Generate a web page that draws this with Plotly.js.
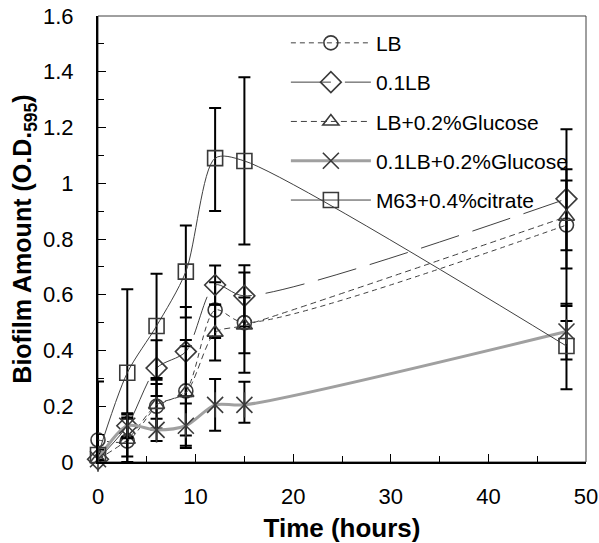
<!DOCTYPE html>
<html>
<head>
<meta charset="utf-8">
<script src="https://cdn.plot.ly/plotly-3.0.1.min.js"></script>
<style>html,body{margin:0;padding:0;background:#fff}#chart{width:599px;height:543px}</style>
</head>
<body>
<div id="chart"></div>
<script>
// Time points (hours)
const times = [0, 3, 6, 9, 12, 15, 48];

// Series values (O.D.595)
const LB        = [0.079, 0.075, 0.200, 0.255, 0.545, 0.500, 0.850];
const LB_up     = [0.210, 0.080, 0.080, 0.160, 0.100, 0.180, 0.200];
const LB_dn     = [0.070, 0.080, 0.080, 0.160, 0.100, 0.180, 0.290];

const LB01      = [0.010, 0.130, 0.337, 0.396, 0.635, 0.596, 0.944];
const LB01_up   = [0.020, 0.040, 0.100, 0.160, 0.070, 0.110, 0.250];
const LB01_dn   = [0.020, 0.040, 0.100, 0.160, 0.070, 0.110, 0.250];

const LBG       = [0.010, 0.080, 0.205, 0.248, 0.464, 0.490, 0.880];
const LBG_up    = [0.020, 0.080, 0.090, 0.190, 0.100, 0.100, 0.130];
const LBG_dn    = [0.020, 0.080, 0.090, 0.190, 0.100, 0.100, 0.120];

const LB01G     = [0.010, 0.130, 0.115, 0.130, 0.205, 0.205, 0.468];
const LB01G_up  = [0.020, 0.045, 0.040, 0.080, 0.093, 0.083, 0.100];
const LB01G_dn  = [0.020, 0.045, 0.040, 0.080, 0.093, 0.064, 0.100];

const M63       = [0.025, 0.320, 0.488, 0.683, 1.090, 1.080, 0.416];
const M63_up    = [0.020, 0.300, 0.187, 0.165, 0.180, 0.300, 0.090];
const M63_dn    = [0.020, 0.300, 0.187, 0.165, 0.190, 0.300, 0.155];

const names = ["LB", "0.1LB", "LB+0.2%Glucose", "0.1LB+0.2%Glucose", "M63+0.4%citrate"];

const MK = "#3a3a3a";
function err(up, dn) {
  return {type: "data", symmetric: false, array: up, arrayminus: dn,
          color: "#000", thickness: 2, width: 6};
}
function tr(name, y, up, dn, line, symbol, size) {
  return {
    type: "scatter", mode: "lines+markers", name: name, x: times, y: y,
    line: Object.assign({shape: "spline", smoothing: 0.8}, line),
    marker: {symbol: symbol, size: size, color: MK, line: {color: MK, width: 1.6}},
    error_y: err(up, dn), cliponaxis: false, legendgroup: name
  };
}

const traces = [
  tr(names[0], LB, LB_up, LB_dn, {color: "#404040", width: 1, dash: "5px,4px"}, "circle-open", 14),
  tr(names[1], LB01, LB01_up, LB01_dn, {color: "#404040", width: 1, dash: "40px,14px"}, "diamond-open", 16),
  tr(names[2], LBG, LBG_up, LBG_dn, {color: "#404040", width: 1, dash: "6px,4px"}, "triangle-up-open", 14),
  tr(names[3], LB01G, LB01G_up, LB01G_dn, {color: "#a0a0a0", width: 3}, "x-thin-open", 16),
  tr(names[4], M63, M63_up, M63_dn, {color: "#404040", width: 1}, "square-open", 15)
];
// vertical stroke of the star marker
traces.push({
  type: "scatter", mode: "markers", x: times, y: LB01G, showlegend: false,
  marker: {symbol: "line-ns-open", size: 18, color: MK, line: {color: MK, width: 1.6}},
  cliponaxis: false, hoverinfo: "skip"
});

const F = "Liberation Sans, Arial, sans-serif";
const layout = {
  width: 599, height: 543,
  margin: {l: 98, r: 13, t: 16, b: 81},
  paper_bgcolor: "#fff", plot_bgcolor: "#fff",
  font: {family: F, color: "#000", size: 22},
  showlegend: true,
  legend: {x: 0.385, y: 0.985, xanchor: "left", yanchor: "top",
           bgcolor: "rgba(0,0,0,0)", font: {family: F, size: 21, color: "#000"},
           traceorder: "grouped", tracegroupgap: 9, itemwidth: 80},
  xaxis: {
    range: [0, 50], dtick: 10, tick0: 0,
    ticks: "inside", ticklen: 8, tickwidth: 1, tickcolor: "#000",
    minor: {dtick: 5, ticks: "inside", ticklen: 6, tickwidth: 1, tickcolor: "#000"},
    showline: true, linecolor: "#000", linewidth: 2, showgrid: false, zeroline: false,
    tickfont: {family: F, size: 22}, ticklabelstandoff: 14,
    title: {text: "Time (hours)", font: {family: F, size: 26, weight: "bold"}, standoff: 10}
  },
  yaxis: {
    range: [0, 1.6], dtick: 0.2, tick0: 0,
    ticks: "inside", ticklen: 8, tickwidth: 1, tickcolor: "#000",
    minor: {dtick: 0.1, ticks: "inside", ticklen: 6, tickwidth: 1, tickcolor: "#000"},
    showline: true, linecolor: "#000", linewidth: 2, showgrid: false, zeroline: false,
    tickfont: {family: F, size: 22}, ticklabelstandoff: 18,
    title: {text: "Biofilm Amount (O.D.<sub>595</sub>)", font: {family: F, size: 25, weight: "bold"}, standoff: 4}
  },
  shapes: [{type: "rect", xref: "paper", yref: "paper", x0: 0, x1: 1, y0: 0, y1: 1,
            line: {color: "#404040", width: 1}, layer: "below"}]
};

Plotly.newPlot("chart", traces, layout, {displayModeBar: false, staticPlot: true});
</script>
</body>
</html>
